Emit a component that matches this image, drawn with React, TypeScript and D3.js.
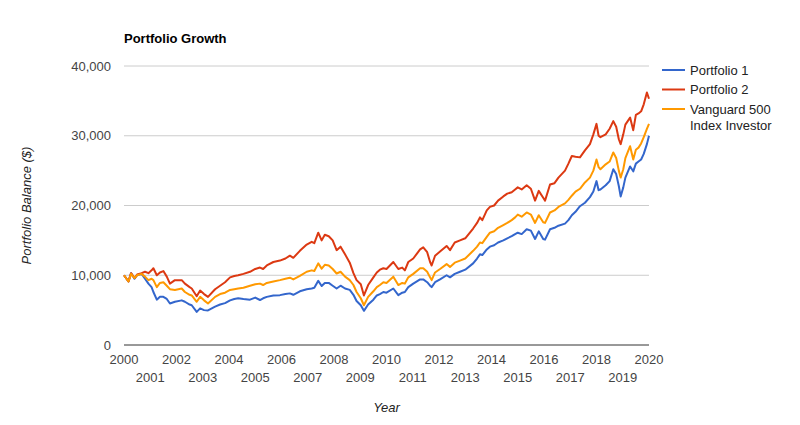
import React from "react";
import * as d3 from "d3";

const years = [
  2000.0, 2000.17, 2000.27, 2000.4, 2000.5, 2000.67, 2000.8, 2000.93, 2001.05, 2001.12,
  2001.25, 2001.37, 2001.5, 2001.63, 2001.75, 2001.94, 2002.2, 2002.32, 2002.5, 2002.58,
  2002.77, 2002.9, 2003.05, 2003.2, 2003.47, 2003.66, 2003.85, 2004.04, 2004.2, 2004.35,
  2004.55, 2004.8, 2005.0, 2005.18, 2005.3, 2005.44, 2005.69, 2005.94, 2006.15, 2006.32,
  2006.45, 2006.7, 2006.96, 2007.15, 2007.25, 2007.4, 2007.53, 2007.65, 2007.8, 2007.95,
  2008.1, 2008.25, 2008.42, 2008.6, 2008.74, 2008.86, 2009.02, 2009.14, 2009.3, 2009.5,
  2009.63, 2009.75, 2009.88, 2010.0, 2010.26, 2010.45, 2010.6, 2010.7, 2010.83, 2011.02,
  2011.28, 2011.4, 2011.55, 2011.66, 2011.72, 2011.85, 2012.04, 2012.29, 2012.42, 2012.6,
  2012.8, 2013.0, 2013.3, 2013.45, 2013.56, 2013.65, 2013.82, 2013.94, 2014.1, 2014.25,
  2014.45, 2014.6, 2014.77, 2014.9, 2015.0, 2015.15, 2015.34, 2015.5, 2015.66, 2015.8,
  2015.97, 2016.04, 2016.23, 2016.4, 2016.55, 2016.8, 2016.93, 2017.06, 2017.2, 2017.37,
  2017.56, 2017.75, 2017.88, 2018.0, 2018.08, 2018.15, 2018.35, 2018.5, 2018.64, 2018.75,
  2018.85, 2018.92, 2019.02, 2019.1, 2019.28, 2019.4, 2019.5, 2019.6, 2019.7, 2019.8,
  2019.92, 2020.0,
];

const portfolio2 = [
  10000, 9100, 10300, 9600, 10100, 10300, 10500, 10300, 10700, 11000,
  10000, 10400, 10600, 9800, 8800, 9300, 9300, 8800, 8300, 8100,
  7000, 7800, 7300, 6900, 8000, 8500, 9000, 9700, 9900, 10000,
  10200, 10500, 10900, 11100, 10900, 11400, 11900, 12100, 12400, 12800,
  12500, 13500, 14400, 14800, 14600, 16100, 15000, 15800, 15600, 15000,
  13600, 14100, 13000, 11800, 10300, 9300, 8700, 7100, 8600, 9700,
  10400, 10800, 11000, 10900, 11900, 10900, 11100, 10700, 11900, 12400,
  13700, 14000, 13300, 11900, 11400, 12800, 13400, 14200, 13600, 14700,
  15000, 15300, 16700, 17500, 18300, 17900, 19300, 19800, 20000, 20700,
  21300, 21700, 21900, 22300, 22600, 22300, 22900, 22400, 20700, 22100,
  21100, 20700, 23000, 23200, 24000, 25000, 26000, 27100, 27000, 26900,
  27900, 28800, 30200, 31700, 30000, 29800, 30200, 31000, 32100, 31300,
  29500, 28800, 30200, 31600, 32600, 30800, 33000, 33200, 33500, 34500,
  36200, 35300,
];

const vanguard = [
  10000, 9100, 10200, 9600, 10000, 10200, 9800, 9300, 9500, 9300,
  8300, 8900, 9000, 8500, 8000, 7900, 8100, 7600, 7200, 7100,
  6200, 6900, 6400, 5950, 6900, 7300, 7500, 7900, 8000, 8100,
  8200, 8500, 8700, 8800, 8600, 8900, 9100, 9300, 9500, 9650,
  9400, 9900, 10500, 10700, 10600, 11700, 10950, 11500, 11400, 10900,
  10250, 10500, 9800, 9300, 8600, 7600, 6700, 5700, 6900, 7700,
  8300, 8600, 9000, 8900, 9800, 8600, 8900, 8800, 9700, 10200,
  11000, 11000, 10500, 9700, 9300, 10400, 10900, 11600, 11200, 11800,
  12100, 12400, 13500, 14100, 14700, 14600, 15500, 16100, 16300, 16800,
  17200, 17500, 17900, 18300, 18700, 18400, 19000, 18700, 17500, 18600,
  17600, 17500, 19000, 19300, 19800, 20300, 20800, 21400, 22000, 22400,
  23300, 24000, 25000, 26600, 25500, 25200, 25900, 26300, 27600, 26800,
  25000, 24000, 25200, 26800, 28500, 26600, 28000, 28300, 28900, 29800,
  31000, 31700,
];

const portfolio1 = [
  10000, 9100, 10300, 9500, 10000, 10200, 9500, 8800, 8300, 7600,
  6500, 6900, 6900, 6600, 5950, 6200, 6400, 6200, 5800, 5700,
  4750, 5250, 5000, 4950, 5500, 5800, 6000, 6400, 6600, 6700,
  6600, 6500, 6800, 6450, 6700, 6900, 7100, 7150, 7300, 7400,
  7200, 7700, 8000, 8100, 8200, 9200, 8450, 8900, 8900, 8500,
  8100, 8500, 8100, 7900, 7200, 6300, 5700, 4900, 5800, 6500,
  7100, 7300, 7600, 7500, 8100, 7150, 7500, 7600, 8300, 8800,
  9400, 9400, 9000, 8500, 8300, 9000, 9400, 10000, 9700, 10200,
  10500, 10800, 11700, 12400, 13000, 12900, 13700, 14100, 14300, 14700,
  15000, 15300, 15600, 15900, 16100, 15900, 16600, 16400, 15200, 16300,
  15200, 15100, 16600, 16800, 17100, 17400, 17900, 18600, 19100, 19900,
  20400, 21200, 22000, 23500, 22200, 22300, 22900, 23500, 25200, 24500,
  22800, 21300, 22600, 24000, 25600, 24900, 26000, 26300, 26600, 27400,
  28800, 30000,
];

const seriesNames = ["Portfolio 1", "Portfolio 2", "Vanguard 500 Index Investor"];
const seriesColors = ["#3366cc", "#dc3912", "#ff9900"];
const yTicks = [0, 10000, 20000, 30000, 40000];
const xTicks = d3.range(2000, 2021);

const FONT = "Arial, 'Liberation Sans', sans-serif";

export default function App() {
  const left = 124;
  const right = 649;
  const top = 66;
  const bottom = 345;
  const x = d3.scaleLinear().domain([2000, 2020]).range([left, right]);
  const y = d3.scaleLinear().domain([0, 40000]).range([bottom, top]);
  const line = d3
    .line<number>()
    .x((_, i) => x(years[i]))
    .y((d) => y(d));
  const fmt = d3.format(",");
  const data = [portfolio1, portfolio2, vanguard];
  // draw order: P1, P2, Vanguard on top
  return (
    <svg
      width={800}
      height={425}
      style={{ position: "absolute", left: 0, top: 0, background: "#fff" }}
      fontFamily={FONT}
    >
      <text x={124} y={43} fontSize={13} fontWeight="bold" fill="#000">
        Portfolio Growth
      </text>
      {yTicks.map((t) => (
        <g key={t}>
          {t !== 0 && (
            <line x1={left} x2={right} y1={y(t)} y2={y(t)} stroke="#cccccc" strokeWidth={1} />
          )}
          <text
            x={111}
            y={y(t)}
            dy="0.35em"
            textAnchor="end"
            fontSize={13}
            fill="#444"
          >
            {fmt(t)}
          </text>
        </g>
      ))}
      {data.map((d, i) => (
        <path
          key={i}
          d={line(d) || ""}
          fill="none"
          stroke={seriesColors[i]}
          strokeWidth={2}
          strokeLinejoin="round"
        />
      ))}
      <line x1={left} x2={right} y1={bottom} y2={bottom} stroke="#333" strokeWidth={1} />
      {xTicks.map((t, i) => (
        <text
          key={t}
          x={x(t)}
          y={i % 2 === 0 ? 364 : 382}
          textAnchor="middle"
          fontSize={13}
          fill="#444"
        >
          {t}
        </text>
      ))}
      <text x={(left + right) / 2} y={412} textAnchor="middle" fontSize={13} fontStyle="italic" fill="#222">
        Year
      </text>
      <text
        transform={`translate(31,${(top + bottom) / 2}) rotate(-90)`}
        textAnchor="middle"
        fontSize={13}
        fontStyle="italic"
        fill="#222"
      >
        Portfolio Balance ($)
      </text>
      {seriesNames.map((name, i) => {
        const ly = 70 + i * 19.5;
        const lines = i === 2 ? ["Vanguard 500", "Index Investor"] : [name];
        return (
          <g key={name}>
            <line x1={662} x2={685} y1={ly} y2={ly} stroke={seriesColors[i]} strokeWidth={2} />
            {lines.map((l, j) => (
              <text key={j} x={690} y={ly + j * 16.5} dy="0.35em" fontSize={13} fill="#222">
                {l}
              </text>
            ))}
          </g>
        );
      })}
    </svg>
  );
}
